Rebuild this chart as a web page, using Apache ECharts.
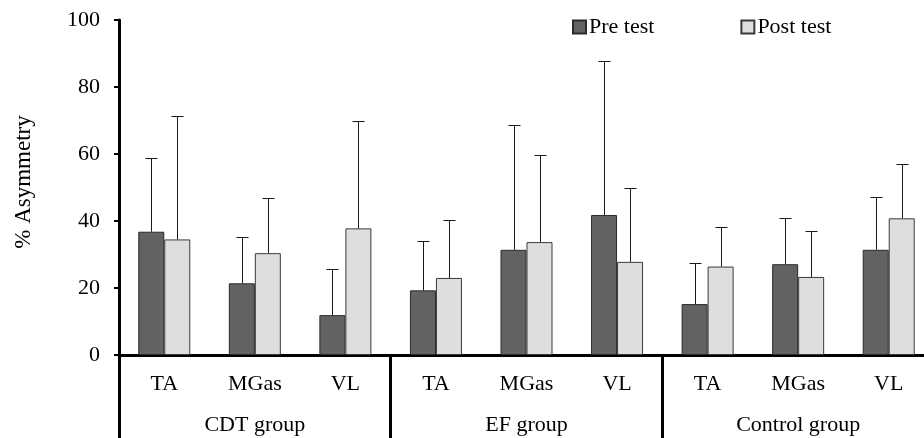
<!DOCTYPE html>
<html>
<head>
<meta charset="utf-8">
<script src="https://cdn.jsdelivr.net/npm/echarts@6/dist/echarts.min.js"></script>
<style>html,body{margin:0;padding:0;background:#fff;}#c{width:924px;height:438px;}</style>
</head>
<body>
<div id="c"></div>
<script>
var categories = ['TA','MGas','VL','TA','MGas','VL','TA','MGas','VL'];
var groups = ['CDT group','EF group','Control group'];
var preMean = [36.8, 21.4, 11.9, 19.3, 31.4, 41.8, 15.2, 27.1, 31.4];
var postMean = [34.5, 30.4, 37.8, 23.0, 33.7, 27.8, 26.4, 23.3, 40.8];
var preSD = [21.9, 13.9, 13.8, 14.8, 37.2, 46.0, 12.2, 13.9, 15.9];
var postSD = [36.8, 16.4, 32.1, 17.3, 26.1, 22.0, 11.9, 13.8, 16.3];
var yTicks = [0, 20, 40, 60, 80, 100];

var FONT = "'Liberation Serif', 'Times New Roman', serif";
var BAR_W = 26;

function errData(mean, sd){
  return mean.map(function(m, i){ return [i, m, sd[i]]; });
}
function errRender(offset){
  return function(params, api){
    var x = api.value(0), m = api.value(1), s = api.value(2);
    var p0 = api.coord([x, m]);
    var p1 = api.coord([x, m + s]);
    var cx = Math.round(p0[0] + offset) + 0.5;
    var ty = Math.round(p1[1]) + 0.5;
    return {
      type: 'group',
      children: [
        {type:'line', shape:{x1:cx, y1:p0[1], x2:cx, y2:ty}, style:{stroke:'#1a1a1a', lineWidth:1}},
        {type:'line', shape:{x1:cx-6, y1:ty, x2:cx+6, y2:ty}, style:{stroke:'#1a1a1a', lineWidth:1}}
      ]
    };
  };
}

var chart = echarts.init(document.getElementById('c'), null, {renderer:'canvas'});
chart.setOption({
  animation: false,
  backgroundColor: '#fff',
  textStyle: {fontFamily: FONT, color: '#000'},
  grid: {left: 119, width: 815, top: 20, height: 335, containLabel: false, outerBoundsMode: 'none'},
  legend: {
    left: 567, top: 11,
    itemWidth: 13, itemHeight: 13, itemGap: 86,
    icon: 'rect',
    data: ['Pre test', 'Post test'],
    textStyle: {fontFamily: FONT, fontSize: 22, color: '#000', padding: [0,0,0,-2]}
  },
  xAxis: [
    {
      type: 'category', data: categories, position: 'bottom',
      axisLine: {show: true, lineStyle: {color: '#000', width: 3}},
      axisTick: {show: false},
      axisLabel: {fontFamily: FONT, fontSize: 22, color: '#000', margin: 18, interval: 0}
    },
    {
      type: 'category', data: groups, position: 'bottom',
      axisLine: {show: false},
      axisTick: {show: true, length: 84, lineStyle: {color: '#000', width: 3}},
      axisLabel: {fontFamily: FONT, fontSize: 22, color: '#000', margin: 59, interval: 0}
    }
  ],
  yAxis: {
    type: 'value', min: yTicks[0], max: yTicks[yTicks.length-1], interval: 20,
    name: '% Asymmetry', nameLocation: 'middle', nameGap: 84, nameRotate: 90,
    nameTextStyle: {fontFamily: FONT, fontSize: 23, color: '#000', padding: [0, 0, 0, 11]},
    axisLine: {show: true, lineStyle: {color: '#000', width: 3}},
    axisTick: {show: true, length: 5, lineStyle: {color: '#000', width: 2}},
    axisLabel: {fontFamily: FONT, fontSize: 22, color: '#000', margin: 19},
    splitLine: {show: false}
  },
  series: [
    {
      name: 'Pre test', type: 'bar', data: preMean, barWidth: BAR_W, barGap: '0%',
      itemStyle: {color: '#626262', borderColor: '#2a2a2a', borderWidth: 1}
    },
    {
      name: 'Post test', type: 'bar', data: postMean, barWidth: BAR_W, barGap: '0%',
      itemStyle: {color: '#dedede', borderColor: '#3a3a3a', borderWidth: 1}
    },
    {
      type: 'custom', renderItem: errRender(-BAR_W/2), data: errData(preMean, preSD), z: 3
    },
    {
      type: 'custom', renderItem: errRender(BAR_W/2), data: errData(postMean, postSD), z: 3
    }
  ]
});
</script>
</body>
</html>
